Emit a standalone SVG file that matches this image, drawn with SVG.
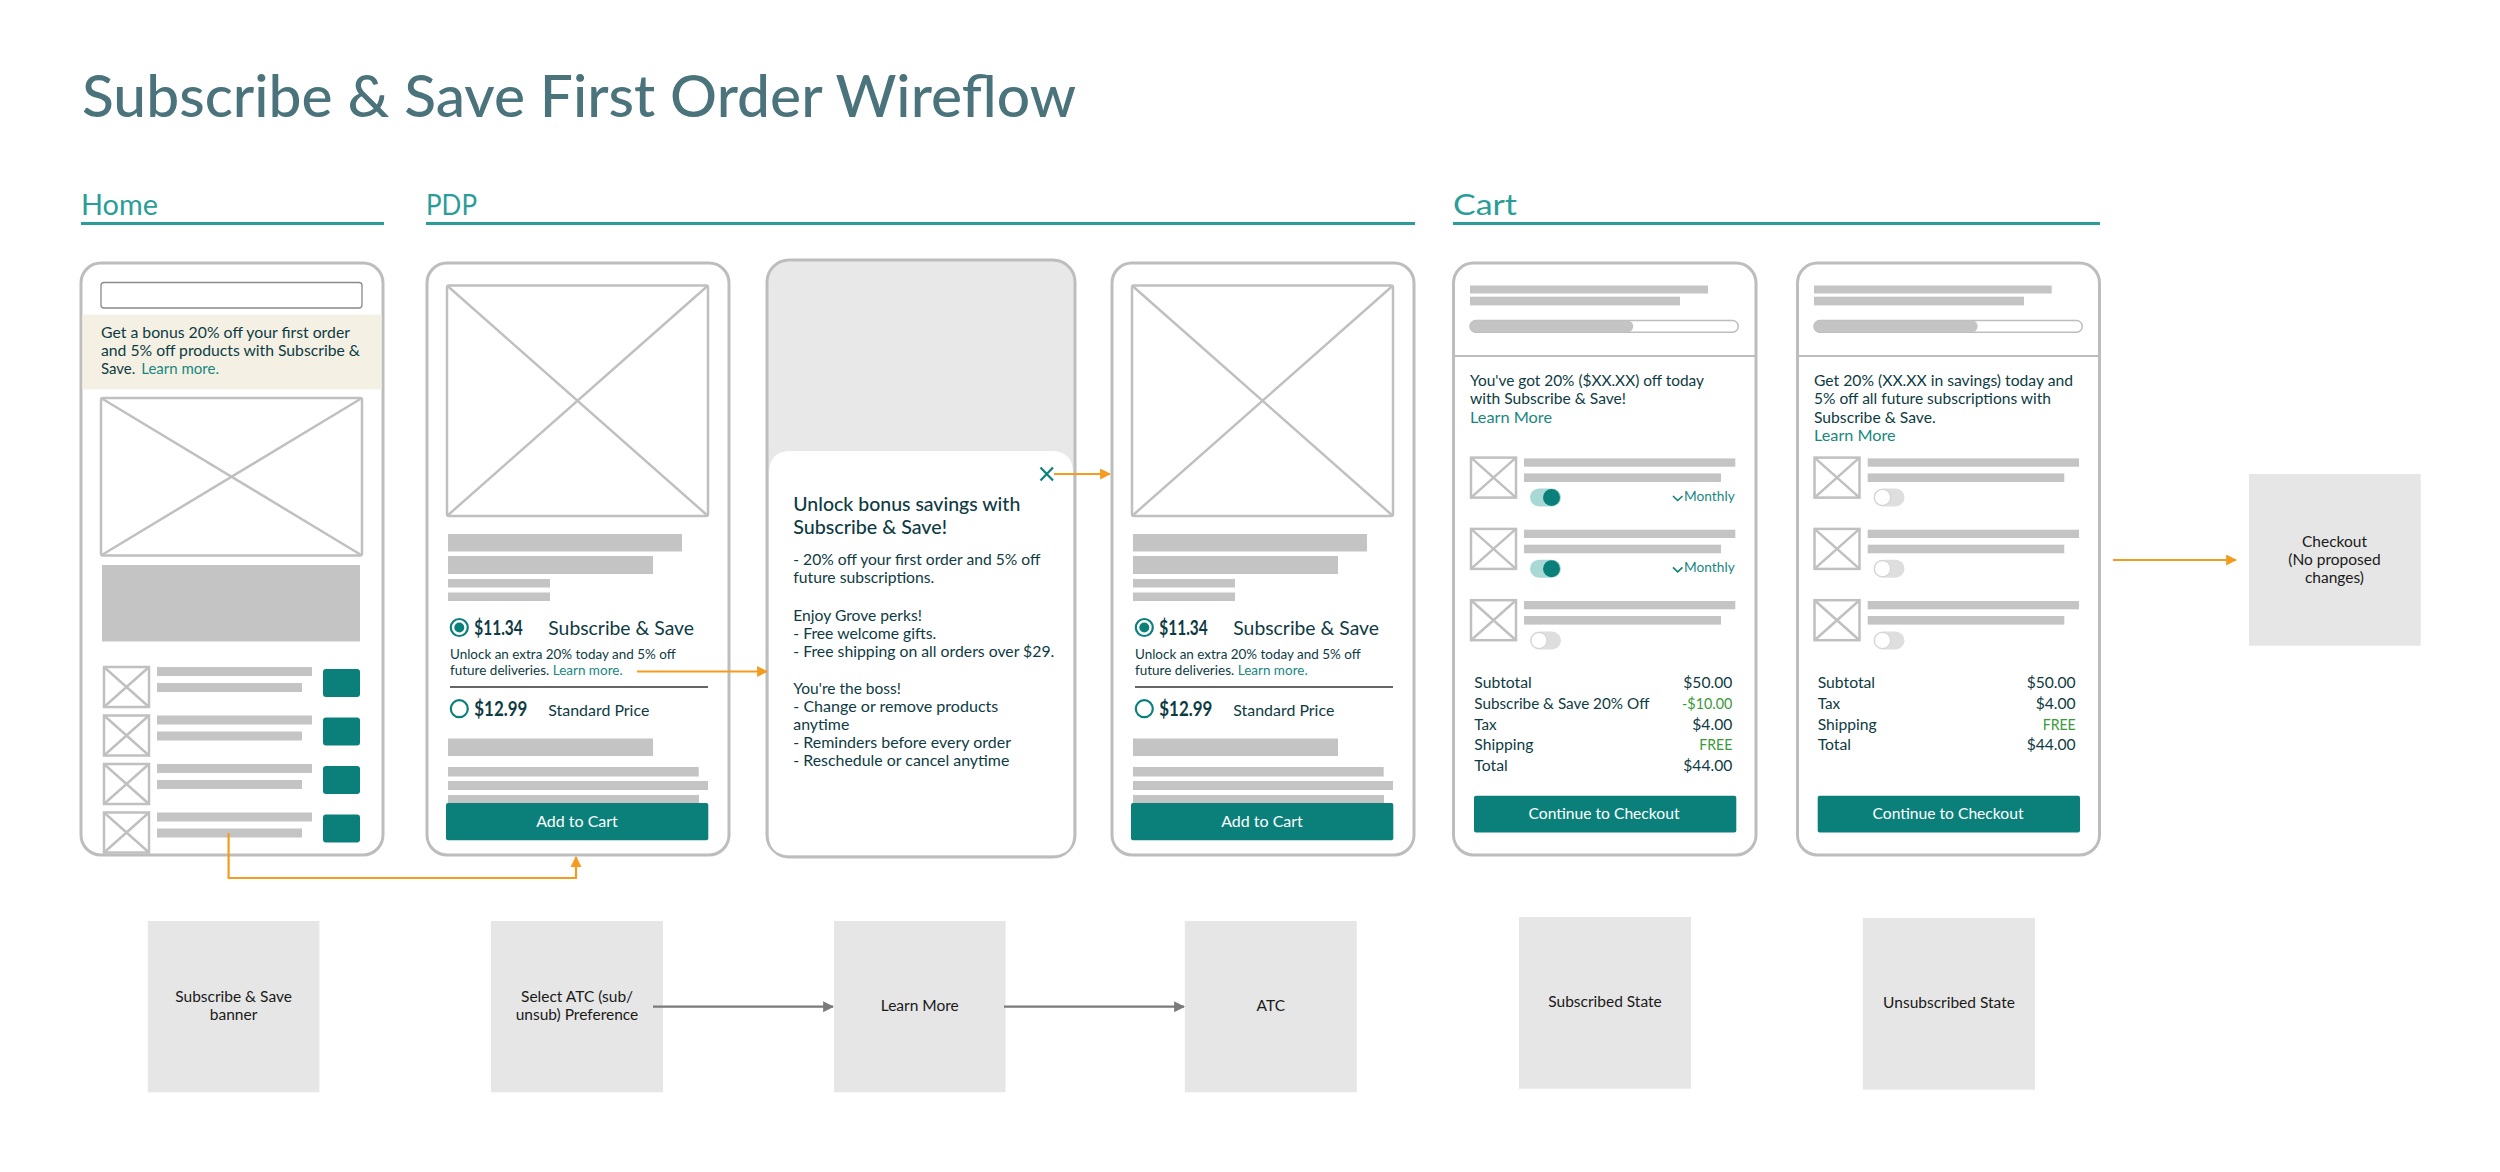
<svg xmlns="http://www.w3.org/2000/svg" width="2500" height="1172" viewBox="0 0 2500 1172">
<style>
text{font-family:Lato,"Noto Sans","Liberation Sans",sans-serif;}
.frame{fill:#fff;stroke:#bdbdbd;stroke-width:3;}
.bar{fill:#c4c4c4;}
.ph{fill:#fff;stroke:#c0c0c0;stroke-width:2.5;}
.phx{stroke:#c0c0c0;stroke-width:2.5;}
.teal{fill:#0b807b;}
.dark{fill:#0e3b43;}
.link{fill:#17877f;}
.green{fill:#3a9a3a;}
.sec{fill:#2a9d99;font-size:28px;}
.rule{stroke:#2a9d99;stroke-width:3;}
.box{fill:#e6e6e6;}
.boxt{fill:#1a1a1a;font-size:15.5px;text-anchor:middle;}
.btnt{fill:#fff;font-size:16px;text-anchor:middle;}
.orange{fill:none;stroke:#f39c1f;stroke-width:2.2;}
.gray{fill:none;stroke:#7a7a7a;stroke-width:2.2;}
.body{font-size:15px;}
.sum{font-size:15.5px;}
.val{font-size:15.5px;text-anchor:end;}
</style>
<defs>
<marker id="ao" viewBox="0 0 10 10" refX="9" refY="5" markerWidth="5" markerHeight="5" orient="auto-start-reverse"><path d="M0,0 L10,5 L0,10 z" fill="#f39c1f"/></marker>
<marker id="ag" viewBox="0 0 10 10" refX="9" refY="5" markerWidth="5" markerHeight="5" orient="auto-start-reverse"><path d="M0,0 L10,5 L0,10 z" fill="#7a7a7a"/></marker>
<g id="thumb">
<rect class="ph" x="0" y="0" width="45" height="40"/>
<path class="phx" d="M0,0 L45,40 M45,0 L0,40"/>
</g>
<g id="togon">
<rect x="0" y="0" width="31" height="18" rx="9" fill="#a9d9d5"/>
<circle cx="21.5" cy="9" r="8.5" fill="#0b807b"/>
</g>
<g id="togoff">
<rect x="0" y="0" width="31" height="18" rx="9" fill="#dedede"/>
<circle cx="9" cy="9" r="8" fill="#fff" stroke="#d0d0d0" stroke-width="1"/>
</g>
</defs>
<rect width="2500" height="1172" fill="#fff"/>

<text x="82" y="117" font-size="57" fill="#4b737b" font-weight="500" textLength="994" lengthAdjust="spacingAndGlyphs">Subscribe &amp; Save First Order Wireflow</text>

<g id="sections">
<text class="sec" x="81" y="215" textLength="77" lengthAdjust="spacingAndGlyphs">Home</text>
<line class="rule" x1="81" y1="223.5" x2="384" y2="223.5"/>
<text class="sec" x="426" y="215" textLength="51" lengthAdjust="spacingAndGlyphs">PDP</text>
<line class="rule" x1="426" y1="223.5" x2="1415" y2="223.5"/>
<text class="sec" x="1453" y="215" textLength="64" lengthAdjust="spacingAndGlyphs">Cart</text>
<line class="rule" x1="1453" y1="223.5" x2="2100" y2="223.5"/>
</g>

<!-- Home screen -->
<g id="home">
<rect class="frame" x="81" y="263" width="302" height="592" rx="20"/>
<rect x="101" y="282.5" width="261" height="25.5" rx="3" fill="#fff" stroke="#8a8a8a" stroke-width="1.3"/>
<rect x="82.5" y="314.5" width="299" height="75" fill="#f4f1e4"/>
<text class="dark body" x="101" y="338" textLength="249" lengthAdjust="spacingAndGlyphs">Get a bonus 20% off your first order</text>
<text class="dark body" x="101" y="356" textLength="259" lengthAdjust="spacingAndGlyphs">and 5% off products with Subscribe &amp;</text>
<text class="dark body" x="101" y="374">Save. <tspan class="link" x="141.3">Learn more.</tspan></text>
<rect class="ph" x="101" y="398" width="261" height="157.5" rx="2"/>
<path class="phx" d="M101,398 L362,555.5 M362,398 L101,555.5"/>
<rect class="bar" x="102" y="565" width="258" height="76.5"/>
<use href="#thumb" x="104" y="667"/>
<rect class="bar" x="157" y="667" width="155" height="9"/>
<rect class="bar" x="157" y="683" width="145" height="9"/>
<rect class="teal" x="323" y="669" width="37" height="28" rx="3"/>
<use href="#thumb" x="104" y="715.5"/>
<rect class="bar" x="157" y="715.5" width="155" height="9"/>
<rect class="bar" x="157" y="731.5" width="145" height="9"/>
<rect class="teal" x="323" y="717.5" width="37" height="28" rx="3"/>
<use href="#thumb" x="104" y="764"/>
<rect class="bar" x="157" y="764" width="155" height="9"/>
<rect class="bar" x="157" y="780" width="145" height="9"/>
<rect class="teal" x="323" y="766" width="37" height="28" rx="3"/>
<use href="#thumb" x="104" y="812.5"/>
<rect class="bar" x="157" y="812.5" width="155" height="9"/>
<rect class="bar" x="157" y="828.5" width="145" height="9"/>
<rect class="teal" x="323" y="814.5" width="37" height="28" rx="3"/>
</g>

<!-- PDP screen -->
<g id="pdp">
<rect class="frame" x="427" y="263" width="302" height="592" rx="20"/>
<rect class="ph" x="447" y="285.5" width="261" height="230.5" rx="2"/>
<path class="phx" d="M447,285.5 L708,516 M708,285.5 L447,516"/>
<rect class="bar" x="448" y="534" width="234" height="17.5"/>
<rect class="bar" x="448" y="556" width="205" height="18"/>
<rect class="bar" x="448" y="579" width="102" height="8.5"/>
<rect class="bar" x="448" y="592.5" width="102" height="8.5"/>
<circle cx="459.3" cy="627.5" r="8.5" fill="none" stroke="#0b807b" stroke-width="2.2"/>
<circle cx="459.3" cy="627.5" r="5" fill="#0b807b"/>
<text class="dark" x="474.3" y="634.5" font-size="20" font-weight="700" textLength="48.4" lengthAdjust="spacingAndGlyphs">$11.34</text>
<text class="dark" x="548.3" y="634.5" font-size="20" textLength="145.7" lengthAdjust="spacingAndGlyphs">Subscribe &amp; Save</text>
<text class="dark" x="450" y="658.5" font-size="13.5" textLength="225.7" lengthAdjust="spacingAndGlyphs">Unlock an extra 20% today and 5% off</text>
<text class="dark" x="450" y="674.5" font-size="13.5">future deliveries. <tspan class="link" x="552.7">Learn more.</tspan></text>
<line x1="450" y1="687" x2="708" y2="687" stroke="#333" stroke-width="1.5"/>
<circle cx="459.3" cy="708.7" r="8.5" fill="none" stroke="#0b807b" stroke-width="2.2"/>
<text class="dark" x="474.3" y="715.5" font-size="20" font-weight="700" textLength="53" lengthAdjust="spacingAndGlyphs">$12.99</text>
<text class="dark" x="548.3" y="715.5" font-size="15" textLength="101" lengthAdjust="spacingAndGlyphs">Standard Price</text>
<rect class="bar" x="448" y="738.5" width="205" height="17.5"/>
<rect class="bar" x="448" y="767" width="250.7" height="9.5"/>
<rect class="bar" x="448" y="781" width="260" height="9"/>
<rect class="bar" x="448" y="795" width="251" height="8"/>
<rect class="teal" x="446" y="803" width="262.3" height="37.3" rx="2"/>
<text class="btnt" x="577" y="826.5" textLength="81.7" lengthAdjust="spacingAndGlyphs">Add to Cart</text>
</g>

<!-- Learn more modal -->
<g id="learnmore">
<rect x="767" y="260" width="308" height="597" rx="22" fill="#e8e8e8" stroke="#bdbdbd" stroke-width="3"/>
<path d="M769,473 Q769,451 791,451 L1051,451 Q1073,451 1073,473 L1073,835 Q1073,855 1053,855 L789,855 Q769,855 769,835 Z" fill="#fff"/>
<path d="M1040.5,467.5 L1053,480.5 M1053,467.5 L1040.5,480.5" stroke="#0b807b" stroke-width="2.2" fill="none"/>
<text class="dark" x="793.3" y="511" font-size="19.5" font-weight="500" textLength="227" lengthAdjust="spacingAndGlyphs">Unlock bonus savings with</text>
<text class="dark" x="793.3" y="534" font-size="19.5" font-weight="500" textLength="153.7" lengthAdjust="spacingAndGlyphs">Subscribe &amp; Save!</text>
<text class="dark body" x="793.3" y="565" textLength="247" lengthAdjust="spacingAndGlyphs">- 20% off your first order and 5% off</text>
<text class="dark body" x="793.3" y="583.3" textLength="141" lengthAdjust="spacingAndGlyphs">future subscriptions.</text>
<text class="dark body" x="793.3" y="620.5" textLength="128.7" lengthAdjust="spacingAndGlyphs">Enjoy Grove perks!</text>
<text class="dark body" x="793.3" y="638.7" textLength="143" lengthAdjust="spacingAndGlyphs">- Free welcome gifts.</text>
<text class="dark body" x="793.3" y="657" textLength="261" lengthAdjust="spacingAndGlyphs">- Free shipping on all orders over $29.</text>
<text class="dark body" x="793.3" y="693.6" textLength="107.7" lengthAdjust="spacingAndGlyphs">You're the boss!</text>
<text class="dark body" x="793.3" y="712" textLength="205" lengthAdjust="spacingAndGlyphs">- Change or remove products</text>
<text class="dark body" x="793.3" y="729.5" textLength="56" lengthAdjust="spacingAndGlyphs">anytime</text>
<text class="dark body" x="793.3" y="747.5" textLength="217.7" lengthAdjust="spacingAndGlyphs">- Reminders before every order</text>
<text class="dark body" x="793.3" y="766" textLength="216" lengthAdjust="spacingAndGlyphs">- Reschedule or cancel anytime</text>
</g>

<!-- ATC screen -->
<g id="atc" transform="translate(685,0)">
<rect class="frame" x="427" y="263" width="302" height="592" rx="20"/>
<rect class="ph" x="447" y="285.5" width="261" height="230.5" rx="2"/>
<path class="phx" d="M447,285.5 L708,516 M708,285.5 L447,516"/>
<rect class="bar" x="448" y="534" width="234" height="17.5"/>
<rect class="bar" x="448" y="556" width="205" height="18"/>
<rect class="bar" x="448" y="579" width="102" height="8.5"/>
<rect class="bar" x="448" y="592.5" width="102" height="8.5"/>
<circle cx="459.3" cy="627.5" r="8.5" fill="none" stroke="#0b807b" stroke-width="2.2"/>
<circle cx="459.3" cy="627.5" r="5" fill="#0b807b"/>
<text class="dark" x="474.3" y="634.5" font-size="20" font-weight="700" textLength="48.4" lengthAdjust="spacingAndGlyphs">$11.34</text>
<text class="dark" x="548.3" y="634.5" font-size="20" textLength="145.7" lengthAdjust="spacingAndGlyphs">Subscribe &amp; Save</text>
<text class="dark" x="450" y="658.5" font-size="13.5" textLength="225.7" lengthAdjust="spacingAndGlyphs">Unlock an extra 20% today and 5% off</text>
<text class="dark" x="450" y="674.5" font-size="13.5">future deliveries. <tspan class="link" x="552.7">Learn more.</tspan></text>
<line x1="450" y1="687" x2="708" y2="687" stroke="#333" stroke-width="1.5"/>
<circle cx="459.3" cy="708.7" r="8.5" fill="none" stroke="#0b807b" stroke-width="2.2"/>
<text class="dark" x="474.3" y="715.5" font-size="20" font-weight="700" textLength="53" lengthAdjust="spacingAndGlyphs">$12.99</text>
<text class="dark" x="548.3" y="715.5" font-size="15" textLength="101" lengthAdjust="spacingAndGlyphs">Standard Price</text>
<rect class="bar" x="448" y="738.5" width="205" height="17.5"/>
<rect class="bar" x="448" y="767" width="250.7" height="9.5"/>
<rect class="bar" x="448" y="781" width="260" height="9"/>
<rect class="bar" x="448" y="795" width="251" height="8"/>
<rect class="teal" x="446" y="803" width="262.3" height="37.3" rx="2"/>
<text class="btnt" x="577" y="826.5" textLength="81.7" lengthAdjust="spacingAndGlyphs">Add to Cart</text>
</g>

<!-- Cart subscribed -->
<g id="cart-subscribed">
<rect class="frame" x="1453.5" y="263" width="302.5" height="592" rx="20"/>
<rect class="bar" x="1470" y="285.5" width="238" height="8"/>
<rect class="bar" x="1470" y="296.7" width="210" height="8.7"/>
<rect x="1470" y="320.5" width="268.3" height="11.7" rx="5.85" fill="#fff" stroke="#bdbdbd" stroke-width="1.5"/>
<rect x="1470" y="320.5" width="163.3" height="11.7" rx="5.85" fill="#c4c4c4"/>
<line x1="1453.5" y1="356" x2="1756" y2="356" stroke="#bdbdbd" stroke-width="2"/>
<text class="dark body" x="1470" y="386.4" textLength="234" lengthAdjust="spacingAndGlyphs">You've got 20% ($XX.XX) off today</text>
<text class="dark body" x="1470" y="404.2" textLength="156" lengthAdjust="spacingAndGlyphs">with Subscribe &amp; Save!</text>
<text class="link body" x="1470" y="422.8" textLength="82" lengthAdjust="spacingAndGlyphs">Learn More</text>
<use href="#thumb" x="1471" y="457.6"/>
<rect class="bar" x="1524" y="458.4" width="211.3" height="8.3"/>
<rect class="bar" x="1524" y="473.4" width="197" height="8.6"/>
<use href="#togon" x="1530" y="488.4"/>
<path d="M1673,496 L1677.7,500.5 L1682.5,496" fill="none" stroke="#0b807b" stroke-width="1.6"/>
<text class="link" x="1734.7" y="501" font-size="13" text-anchor="end" textLength="50.7" lengthAdjust="spacingAndGlyphs">Monthly</text>
<use href="#thumb" x="1471" y="528.9"/>
<rect class="bar" x="1524" y="529.7" width="211.3" height="8.3"/>
<rect class="bar" x="1524" y="544.7" width="197" height="8.6"/>
<use href="#togon" x="1530" y="559.7"/>
<path d="M1673,567.3 L1677.7,571.8 L1682.5,567.3" fill="none" stroke="#0b807b" stroke-width="1.6"/>
<text class="link" x="1734.7" y="572.3" font-size="13" text-anchor="end" textLength="50.7" lengthAdjust="spacingAndGlyphs">Monthly</text>
<use href="#thumb" x="1471" y="600.2"/>
<rect class="bar" x="1524" y="601" width="211.3" height="8.3"/>
<rect class="bar" x="1524" y="616" width="197" height="8.6"/>
<use href="#togoff" x="1530" y="631.5"/>
<text class="dark sum" x="1474.3" y="688" textLength="57.4" lengthAdjust="spacingAndGlyphs">Subtotal</text>
<text class="dark sum" x="1474.3" y="708.8" textLength="175" lengthAdjust="spacingAndGlyphs">Subscribe &amp; Save 20% Off</text>
<text class="dark sum" x="1474.3" y="729.6" textLength="22.4" lengthAdjust="spacingAndGlyphs">Tax</text>
<text class="dark sum" x="1474.3" y="750.4" textLength="59" lengthAdjust="spacingAndGlyphs">Shipping</text>
<text class="dark sum" x="1474.3" y="771" textLength="33.4" lengthAdjust="spacingAndGlyphs">Total</text>
<text class="dark val" x="1732.3" y="688" textLength="49" lengthAdjust="spacingAndGlyphs">$50.00</text>
<text class="green val" x="1732.3" y="708.8" textLength="50.3" lengthAdjust="spacingAndGlyphs">-$10.00</text>
<text class="dark val" x="1732.3" y="729.6" textLength="40" lengthAdjust="spacingAndGlyphs">$4.00</text>
<text class="green val" x="1732.3" y="750.4" textLength="33" lengthAdjust="spacingAndGlyphs">FREE</text>
<text class="dark val" x="1732.3" y="771" textLength="49" lengthAdjust="spacingAndGlyphs">$44.00</text>
<rect class="teal" x="1474" y="795.7" width="262.3" height="36.7" rx="2"/>
<text class="btnt" x="1604" y="818.8" textLength="151" lengthAdjust="spacingAndGlyphs">Continue to Checkout</text>
</g>

<!-- Cart unsubscribed -->
<g id="cart-unsubscribed">
<rect class="frame" x="1797.5" y="263" width="302" height="592" rx="20"/>
<rect class="bar" x="1814" y="285.5" width="237.7" height="8"/>
<rect class="bar" x="1814" y="296.7" width="210" height="8.7"/>
<rect x="1814" y="320.5" width="268.3" height="11.7" rx="5.85" fill="#fff" stroke="#bdbdbd" stroke-width="1.5"/>
<rect x="1814" y="320.5" width="163.7" height="11.7" rx="5.85" fill="#c4c4c4"/>
<line x1="1797.5" y1="356" x2="2099.5" y2="356" stroke="#bdbdbd" stroke-width="2"/>
<text class="dark body" x="1814" y="386.4" textLength="259" lengthAdjust="spacingAndGlyphs">Get 20% (XX.XX in savings) today and</text>
<text class="dark body" x="1814" y="404.2" textLength="237" lengthAdjust="spacingAndGlyphs">5% off all future subscriptions with</text>
<text class="dark body" x="1814" y="422.8" textLength="121.7" lengthAdjust="spacingAndGlyphs">Subscribe &amp; Save.</text>
<text class="link body" x="1814" y="440.6" textLength="81.7" lengthAdjust="spacingAndGlyphs">Learn More</text>
<use href="#thumb" x="1814.5" y="457.6"/>
<rect class="bar" x="1867.7" y="458.4" width="211.3" height="8.3"/>
<rect class="bar" x="1867.7" y="473.4" width="196.6" height="8.6"/>
<use href="#togoff" x="1873.5" y="488.4"/>
<use href="#thumb" x="1814.5" y="528.9"/>
<rect class="bar" x="1867.7" y="529.7" width="211.3" height="8.3"/>
<rect class="bar" x="1867.7" y="544.7" width="196.6" height="8.6"/>
<use href="#togoff" x="1873.5" y="559.7"/>
<use href="#thumb" x="1814.5" y="600.2"/>
<rect class="bar" x="1867.7" y="601" width="211.3" height="8.3"/>
<rect class="bar" x="1867.7" y="616" width="196.6" height="8.6"/>
<use href="#togoff" x="1873.5" y="631.5"/>
<text class="dark sum" x="1817.7" y="688" textLength="57.4" lengthAdjust="spacingAndGlyphs">Subtotal</text>
<text class="dark sum" x="1817.7" y="708.8" textLength="22.4" lengthAdjust="spacingAndGlyphs">Tax</text>
<text class="dark sum" x="1817.7" y="729.6" textLength="59" lengthAdjust="spacingAndGlyphs">Shipping</text>
<text class="dark sum" x="1817.7" y="750.4" textLength="33.4" lengthAdjust="spacingAndGlyphs">Total</text>
<text class="dark val" x="2075.7" y="688" textLength="49" lengthAdjust="spacingAndGlyphs">$50.00</text>
<text class="dark val" x="2075.7" y="708.8" textLength="40" lengthAdjust="spacingAndGlyphs">$4.00</text>
<text class="green val" x="2075.7" y="729.6" textLength="33" lengthAdjust="spacingAndGlyphs">FREE</text>
<text class="dark val" x="2075.7" y="750.4" textLength="49" lengthAdjust="spacingAndGlyphs">$44.00</text>
<rect class="teal" x="1817.7" y="795.7" width="262.3" height="36.7" rx="2"/>
<text class="btnt" x="1948" y="818.8" textLength="151" lengthAdjust="spacingAndGlyphs">Continue to Checkout</text>
</g>

<!-- Checkout -->
<g id="checkout">
<rect class="box" x="2249" y="474" width="171.7" height="171.7"/>
<text class="boxt" x="2334.5" y="546.7">Checkout</text>
<text class="boxt" x="2334.5" y="565">(No proposed</text>
<text class="boxt" x="2334.5" y="583.3">changes)</text>
</g>

<!-- Step boxes -->
<g id="step-banner">
<rect class="box" x="147.8" y="921" width="171.6" height="171.3"/>
<text class="boxt" x="233.6" y="1001.7">Subscribe &amp; Save</text>
<text class="boxt" x="233.6" y="1019.5">banner</text>
</g>
<g id="step-select">
<rect class="box" x="491" y="921" width="172" height="171.3"/>
<text class="boxt" x="577" y="1001.7">Select ATC (sub/</text>
<text class="boxt" x="577" y="1019.5">unsub) Preference</text>
</g>
<g id="step-learn">
<rect class="box" x="834" y="921" width="171.6" height="171.3"/>
<text class="boxt" x="919.8" y="1011">Learn More</text>
</g>
<g id="step-atc">
<rect class="box" x="1184.8" y="921" width="172" height="171.3"/>
<text class="boxt" x="1270.8" y="1011">ATC</text>
</g>
<g id="step-subscribed">
<rect class="box" x="1519" y="917" width="172" height="171.7"/>
<text class="boxt" x="1605" y="1007">Subscribed State</text>
</g>
<g id="step-unsubscribed">
<rect class="box" x="1862.8" y="918" width="172.2" height="171.7"/>
<text class="boxt" x="1949" y="1008">Unsubscribed State</text>
</g>

<!-- Connectors -->
<g id="connectors">
<path class="orange" d="M228.6,833 L228.6,878 L576,878 L576,857" marker-end="url(#ao)"/>
<path class="orange" d="M637,671.5 L767,671.5" marker-end="url(#ao)"/>
<path class="orange" d="M1054,474 L1110,474" marker-end="url(#ao)"/>
<path class="orange" d="M2113,560 L2236,560" marker-end="url(#ao)"/>
<path class="gray" d="M653,1006.7 L833,1006.7" marker-end="url(#ag)"/>
<path class="gray" d="M1004,1006.7 L1184,1006.7" marker-end="url(#ag)"/>
</g>
</svg>
